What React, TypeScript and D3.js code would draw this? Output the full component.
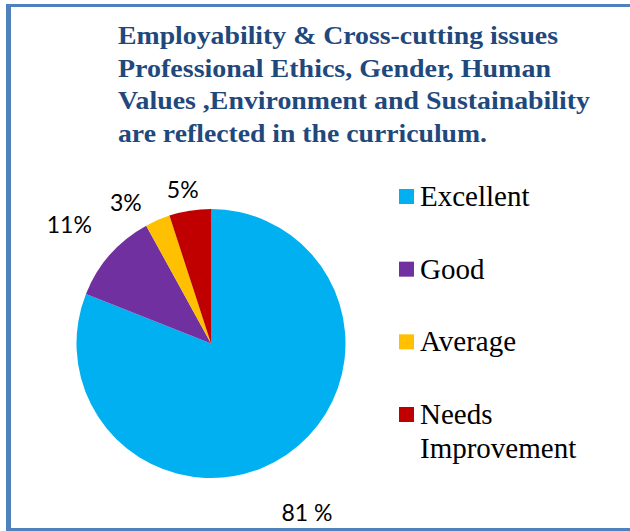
import React, { useEffect } from "react";
import * as d3 from "d3";

const categories = ["Excellent", "Good", "Average", "Needs Improvement"];
const values = [81, 11, 3, 5];
const valueLabels = ["81 %", "11%", "3%", "5%"];
const legendLines = [["Excellent"], ["Good"], ["Average"], ["Needs", "Improvement"]];
const titleLines = [
  "Employability & Cross-cutting issues",
  "Professional Ethics, Gender, Human",
  "Values ,Environment and Sustainability",
  "are reflected in the curriculum.",
];

// layout (not data)
const colors = ["#00B0F0", "#7030A0", "#FFC000", "#C00000"];
const titleWidths = [440, 433, 472, 369];
const labelNudges: [number, number][] = [
  [11.7, 53.5],
  [-29.2, -11.1],
  [-25.6, 5.6],
  [-4.8, 2.9],
];

const W = 630;
const H = 531;
const cx = 211;
const cy = 343.5;
const R = 134.5;

export default function App() {
  useEffect(() => {
    document.body.style.margin = "0";
  }, []);

  const pie = d3
    .pie<number>()
    .sort(null)
    .value((d) => d)
    .startAngle(0)
    .endAngle(2 * Math.PI);
  const arcs = pie(values);
  const arc = d3.arc<d3.PieArcDatum<number>>().innerRadius(0).outerRadius(R);
  const labelArc = d3.arc<d3.PieArcDatum<number>>().innerRadius(150).outerRadius(150);

  const legendY = d3
    .scaleLinear()
    .domain([0, categories.length - 1])
    .range([189, 407]);

  const titleY = d3.scaleLinear().domain([0, titleLines.length - 1]).range([44, 142]);

  return (
    <svg width={W} height={H} style={{ display: "block" }}>
      <rect x={0} y={0} width={W} height={H} fill="#fff" />
      {/* border */}
      <rect x={6} y={4} width={W - 6} height={3} fill="#4F81BD" />
      <rect x={6} y={4} width={5} height={H - 4} fill="#4F81BD" />
      <rect x={6} y={528} width={W - 6} height={3} fill="#4F81BD" />

      {/* title */}
      {titleLines.map((t, i) => (
        <text
          key={i}
          x={118}
          y={titleY(i)}
          fontFamily="'Liberation Serif', 'Times New Roman', serif"
          fontWeight="bold"
          fontSize={26}
          fill="#1F497D"
          textLength={titleWidths[i]}
          lengthAdjust="spacingAndGlyphs"
        >
          {t}
        </text>
      ))}

      {/* pie */}
      <g transform={`translate(${cx},${cy})`}>
        {arcs.map((a, i) => (
          <path key={i} d={arc(a) || ""} fill={colors[i]} />
        ))}
        {arcs.map((a, i) => {
          const [lx, ly] = labelArc.centroid(a);
          const [nx, ny] = labelNudges[i];
          return (
            <text
              key={"l" + i}
              x={lx + nx}
              y={ly + ny}
              textAnchor="middle"
              fontFamily="Lato, 'Noto Sans', sans-serif"
              fontSize={23}
              fill="#000"
            >
              {valueLabels[i]}
            </text>
          );
        })}
      </g>

      {/* legend */}
      {categories.map((c, i) => (
        <g key={c} transform={`translate(399,${legendY(i)})`}>
          <rect x={0} y={0} width={15} height={15} fill={colors[i]} />
          {legendLines[i].map((ln, j) => (
            <text
              key={j}
              x={21}
              y={17 + j * 34}
              fontFamily="'Liberation Serif', 'Times New Roman', serif"
              fontSize={29}
              fill="#000"
            >
              {ln}
            </text>
          ))}
        </g>
      ))}
    </svg>
  );
}
